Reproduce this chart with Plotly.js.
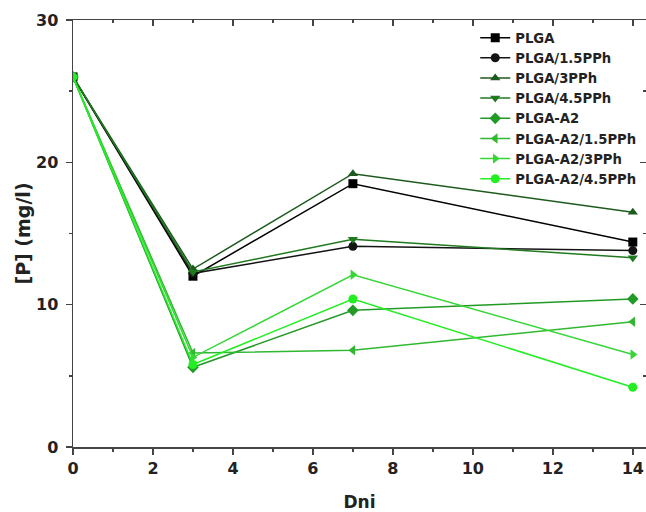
<!DOCTYPE html>
<html>
<head>
<meta charset="utf-8">
<script src="https://cdn.plot.ly/plotly-3.0.1.min.js"></script>
<style>html,body{margin:0;padding:0;background:#fff;}#chart{width:646px;height:512px;}</style>
</head>
<body>
<div id="chart"></div>
<script>
const days = [0, 3, 7, 14];
const seriesNames = ["PLGA", "PLGA/1.5PPh", "PLGA/3PPh", "PLGA/4.5PPh", "PLGA-A2", "PLGA-A2/1.5PPh", "PLGA-A2/3PPh", "PLGA-A2/4.5PPh"];
const plga       = [26.0, 12.0, 18.5, 14.4];
const plga15     = [26.0, 12.2, 14.1, 13.8];
const plga3      = [26.0, 12.5, 19.2, 16.5];
const plga45     = [26.0, 12.3, 14.6, 13.3];
const plgaA2     = [26.0, 5.6, 9.6, 10.4];
const plgaA2_15  = [26.0, 6.6, 6.8, 8.8];
const plgaA2_3   = [26.0, 6.3, 12.1, 6.5];
const plgaA2_45  = [26.0, 5.8, 10.4, 4.2];
const xTicks = [0, 2, 4, 6, 8, 10, 12, 14];
const yTicks = [0, 10, 20, 30];

const values = [plga, plga15, plga3, plga45, plgaA2, plgaA2_15, plgaA2_3, plgaA2_45];
const colors = ["#000000", "#141414", "#1d5a1d", "#1f7a1f", "#229a26", "#30b830", "#36d636", "#22ee22"];
const symbols = ["square", "circle", "triangle-up", "triangle-down", "diamond", "triangle-left", "triangle-right", "circle"];

const traces = values.map((v, i) => ({
  x: days, y: v, name: seriesNames[i], type: "scatter", mode: "lines+markers",
  line: {color: colors[i], width: 1.5},
  marker: {symbol: symbols[i], size: 9, color: colors[i]}
}));
// invisible copy to activate mirrored top/right axes
traces.push({x: days, y: plga, xaxis: "x2", yaxis: "y2", mode: "markers",
  marker: {opacity: 0}, showlegend: false, hoverinfo: "skip"});

const axColor = "#444";
const tickFont = {family: "DejaVu Sans", size: 16, color: "#222", weight: "bold"};
const layout = {
  width: 646, height: 512,
  margin: {l: 73, r: 0, t: 20, b: 65},
  paper_bgcolor: "#fff", plot_bgcolor: "#fff",
  showlegend: true,
  legend: {x: 0.702, y: 0.994, xanchor: "left", yanchor: "top", bgcolor: "rgba(0,0,0,0)",
    font: {family: "DejaVu Sans", size: 13.2, color: "#222", weight: "bold"}, tracegroupgap: 0},
  xaxis: {range: [0, 14.33], tickvals: xTicks, ticktext: xTicks.map(String), ticks: "outside", ticklen: 6, tickwidth: 1.5,
    tickcolor: axColor, showline: true, linecolor: axColor, linewidth: 1.5, showgrid: false, zeroline: false,
    tickfont: tickFont, minor: {dtick: 1, tick0: 0, ticks: "outside", ticklen: 3, tickwidth: 1.5, tickcolor: axColor, showgrid: false},
    title: {text: "Dni", font: {family: "DejaVu Sans", size: 17, color: "#222", weight: "bold"}, standoff: 25}},
  yaxis: {range: [0, 30], tickvals: yTicks, ticktext: yTicks.map(String), ticks: "outside", ticklen: 6, tickwidth: 1.5,
    tickcolor: axColor, showline: true, linecolor: axColor, linewidth: 1.5, showgrid: false, zeroline: false,
    tickfont: tickFont, ticklabelstandoff: 4,
    minor: {dtick: 5, tick0: 0, ticks: "outside", ticklen: 3, tickwidth: 1.5, tickcolor: axColor, showgrid: false},
    title: {text: "[P] (mg/l)", font: {family: "DejaVu Sans", size: 19, color: "#222", weight: "bold"}, standoff: 0}},
  xaxis2: {overlaying: "x", side: "top", range: [0, 14.33], tickvals: xTicks, ticks: "inside", ticklen: 6, tickwidth: 1.5,
    tickcolor: axColor, showline: true, linecolor: axColor, linewidth: 1.5, showgrid: false, zeroline: false, showticklabels: false,
    minor: {dtick: 1, tick0: 0, ticks: "inside", ticklen: 3, tickwidth: 1.5, tickcolor: axColor, showgrid: false}},
  yaxis2: {overlaying: "y", side: "right", range: [0, 30], tickvals: yTicks, ticks: "inside", ticklen: 6, tickwidth: 1.5,
    tickcolor: axColor, showline: false, showgrid: false, zeroline: false, showticklabels: false,
    minor: {dtick: 5, tick0: 0, ticks: "inside", ticklen: 3, tickwidth: 1.5, tickcolor: axColor, showgrid: false}}
};
Plotly.newPlot("chart", traces, layout, {displayModeBar: false, staticPlot: true});
</script>
</body>
</html>
